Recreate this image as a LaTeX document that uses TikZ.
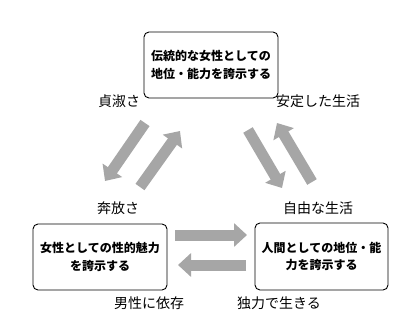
\documentclass[tikz,border=0pt]{standalone}
\usepackage{fontspec}
\setmainfont{Noto Sans CJK JP}
\usetikzlibrary{arrows.meta}
\definecolor{arrowgray}{HTML}{A6A6A6}
\tikzset{
  box/.style={draw=black, line width=0.9pt, rounded corners=5pt, align=center,
    inner sep=0pt, font=\fontsize{12}{17.5}\selectfont\bfseries},
  lbl/.style={inner sep=0pt, font=\fontsize{14}{16}\selectfont},
  bigarrow/.style={draw=arrowgray, line width=11pt,
    -{Triangle[width=23pt,length=13pt]}},
}
\begin{document}
\begin{tikzpicture}[x=1pt,y=-1pt]
\useasboundingbox[fill=white] (0,0) rectangle (417,324);
% boxes
\node[box, minimum width=134pt, minimum height=66pt] (top) at (211,65)
  {伝統的な女性としての\\地位・能力を誇示する};
\node[box, minimum width=134pt, minimum height=66pt] (bl) at (100,257)
  {女性としての性的魅力\\を誇示する};
\node[box, minimum width=133pt, minimum height=67pt] (br) at (321.5,256.5)
  {人間としての地位・能\\力を誇示する};
% labels
\node[lbl] (l1) at (119,101) {貞淑さ};
\node[lbl] (l2) at (318,101) {安定した生活};
\node[lbl] (l3) at (118,208) {奔放さ};
\node[lbl] (l4) at (318,208) {自由な生活};
\node[lbl] (l5) at (149,303) {男性に依存};
\node[lbl] (l6) at (279,303) {独力で生きる};
% arrow end points
\coordinate (a1s) at (145,123); \coordinate (a1e) at (105,181);
\coordinate (a2s) at (140,187); \coordinate (a2e) at (180,131);
\coordinate (a3s) at (248,130); \coordinate (a3e) at (282,188);
\coordinate (a4s) at (312,182); \coordinate (a4e) at (277,123);
\coordinate (a5s) at (175,235); \coordinate (a5e) at (247,235);
\coordinate (a6s) at (246,265); \coordinate (a6e) at (178,265);
\draw[bigarrow] (a1s) -- (a1e);
\draw[bigarrow] (a2s) -- (a2e);
\draw[bigarrow] (a3s) -- (a3e);
\draw[bigarrow] (a4s) -- (a4e);
\draw[bigarrow] (a5s) -- (a5e);
\draw[bigarrow] (a6s) -- (a6e);
\end{tikzpicture}
\end{document}
